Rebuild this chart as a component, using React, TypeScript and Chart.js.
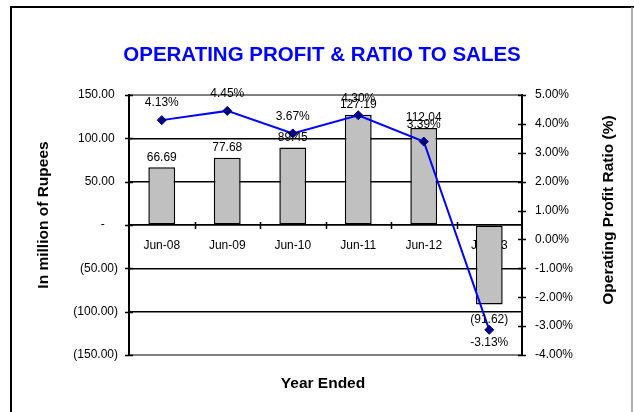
import React, { useEffect, useRef } from 'react';
import { Chart, registerables } from 'chart.js';

Chart.register(...registerables);

// ---- data ----
const categories = ['Jun-08', 'Jun-09', 'Jun-10', 'Jun-11', 'Jun-12', 'Jun-13'];
const operatingProfit = [66.69, 77.68, 89.45, 127.19, 112.04, -91.62];
const profitRatio = [4.13, 4.45, 3.67, 4.3, 3.39, -3.13];
const amountRange = [-150, 150];
const amountStep = 50;
const ratioRange = [-4, 5];
const ratioStep = 1;

const titleText = 'OPERATING PROFIT & RATIO TO SALES';
const xTitle = 'Year Ended';
const yTitle = 'In million of Rupees';
const y1Title = 'Operating Profit Ratio (%)';

const FONT = '"Liberation Sans", Arial, Helvetica, sans-serif';

const fmtAmountTick = (v: number) =>
  v === 0 ? '-    ' : v < 0 ? `(${Math.abs(v).toFixed(2)})` : `${v.toFixed(2)} `;
const fmtAmount = (v: number) => (v < 0 ? `(${Math.abs(v).toFixed(2)})` : v.toFixed(2));
const fmtPct = (v: number) => `${v.toFixed(2)}%`;

const decor = {
  id: 'decor',
  beforeDraw(chart: any) {
    const ctx = chart.ctx;
    ctx.save();
    ctx.fillStyle = '#ffffff';
    ctx.fillRect(0, 0, chart.width, chart.height);
    ctx.strokeStyle = '#000000';
    ctx.lineWidth = 2;
    ctx.beginPath();
    ctx.moveTo(11, chart.height);
    ctx.lineTo(11, 7);
    ctx.lineTo(chart.width, 7);
    ctx.stroke();
    ctx.strokeStyle = '#909090';
    ctx.lineWidth = 1.5;
    ctx.beginPath();
    ctx.moveTo(632, 7);
    ctx.lineTo(632, chart.height);
    ctx.stroke();
    ctx.restore();
  },
  afterDatasetsDraw(chart: any) {
    const ctx = chart.ctx;
    ctx.save();
    ctx.font = `12px ${FONT}`;
    ctx.fillStyle = '#000000';
    ctx.textAlign = 'center';
    ctx.textBaseline = 'middle';
    const barMeta = chart.getDatasetMeta(1);
    barMeta.data.forEach((el: any, i: number) => {
      const v = operatingProfit[i];
      const y = v >= 0 ? el.y - 10 : el.y + 15;
      ctx.fillText(fmtAmount(v), el.x, y);
    });
    const lineMeta = chart.getDatasetMeta(0);
    lineMeta.data.forEach((el: any, i: number) => {
      const v = profitRatio[i];
      const y = v >= 0 ? el.y - 17 : el.y + 13;
      ctx.fillText(fmtPct(v), el.x, y);
    });
    ctx.restore();
  },
  afterDraw(chart: any) {
    const ctx = chart.ctx;
    const { x, y, y1 } = chart.scales;
    ctx.save();
    // crossing tick marks
    ctx.strokeStyle = '#000000';
    ctx.lineWidth = 1.5;
    ctx.beginPath();
    y.ticks.forEach((t: any) => {
      const py = Math.round(y.getPixelForValue(t.value)) + 0.5;
      ctx.moveTo(y.right - 4, py);
      ctx.lineTo(y.right + 4, py);
    });
    y1.ticks.forEach((t: any) => {
      const py = Math.round(y1.getPixelForValue(t.value)) + 0.5;
      ctx.moveTo(y1.left - 4, py);
      ctx.lineTo(y1.left + 4, py);
    });
    const zeroY = y.getPixelForValue(0);
    for (let i = 1; i < categories.length; i++) {
      const px = Math.round((x.getPixelForValue(i - 1) + x.getPixelForValue(i)) / 2) + 0.5;
      ctx.moveTo(px, zeroY - 3);
      ctx.lineTo(px, zeroY + 4);
    }
    ctx.stroke();

    // titles
    ctx.fillStyle = '#0000FF';
    ctx.font = `bold 20.5px ${FONT}`;
    ctx.textAlign = 'center';
    ctx.textBaseline = 'alphabetic';
    ctx.fillText(titleText, 322, 61);

    ctx.fillStyle = '#000000';
    ctx.font = `bold 15.5px ${FONT}`;
    ctx.fillText(xTitle, 323, 388);

    ctx.save();
    ctx.translate(48, 215);
    ctx.rotate(-Math.PI / 2);
    ctx.fillText(yTitle, 0, 0);
    ctx.restore();

    ctx.save();
    ctx.translate(613, 210);
    ctx.rotate(-Math.PI / 2);
    ctx.fillText(y1Title, 0, 0);
    ctx.restore();

    ctx.restore();
  },
};

export default function App() {
  const ref = useRef<HTMLCanvasElement | null>(null);

  useEffect(() => {
    if (!ref.current) return;
    const chart = new Chart(ref.current, {
      data: {
        labels: categories,
        datasets: [
          {
            type: 'line',
            label: 'Operating Profit Ratio',
            data: profitRatio,
            yAxisID: 'y1',
            borderColor: '#0000FF',
            borderWidth: 2,
            pointStyle: 'rectRot',
            pointRadius: 4.5,
            pointBackgroundColor: '#000080',
            pointBorderColor: '#000080',
            pointBorderWidth: 1,
            tension: 0,
            order: 0,
          },
          {
            type: 'bar',
            label: 'Operating Profit',
            data: operatingProfit,
            yAxisID: 'y',
            backgroundColor: '#C0C0C0',
            borderColor: '#000000',
            borderWidth: 1.5,
            borderSkipped: false,
            categoryPercentage: 1,
            barPercentage: 0.41,
            order: 1,
          },
        ],
      } as any,
      options: {
        responsive: false,
        animation: false,
        events: [],
        layout: { padding: { top: 95, bottom: 57, left: 0, right: 0 } },
        plugins: {
          legend: { display: false },
          tooltip: { enabled: false },
          title: { display: false },
        },
        scales: {
          x: {
            type: 'category',
            position: { y: 0 } as any,
            offset: true,
            grid: { drawOnChartArea: false, drawTicks: false, offset: true },
            border: { color: '#000000', width: 1.5 },
            ticks: {
              color: '#000000',
              font: { family: FONT, size: 12 },
              padding: 13,
              maxRotation: 0,
              autoSkip: false,
            },
          },
          y: {
            type: 'linear',
            position: 'left',
            min: amountRange[0],
            max: amountRange[1],
            grid: {
              drawTicks: false,
              color: (c: any) =>
                c.tick && (c.tick.value === amountRange[0] || c.tick.value === amountRange[1])
                  ? '#808080'
                  : '#000000',
              lineWidth: (c: any) =>
                c.tick && (c.tick.value === amountRange[0] || c.tick.value === amountRange[1]) ? 2 : 1.5,
            },
            border: { color: '#000000', width: 2 },
            ticks: {
              stepSize: amountStep,
              color: '#000000',
              font: { family: FONT, size: 12 },
              padding: 11,
              callback: (v: any) => fmtAmountTick(Number(v)),
            },
            afterFit: (s: any) => {
              s.width = 129;
            },
          },
          y1: {
            type: 'linear',
            position: 'right',
            min: ratioRange[0],
            max: ratioRange[1],
            grid: { drawOnChartArea: false, drawTicks: false },
            border: { color: '#000000', width: 2 },
            ticks: {
              stepSize: ratioStep,
              color: '#000000',
              font: { family: FONT, size: 12 },
              padding: 13,
              callback: (v: any) => fmtPct(Number(v)),
            },
            afterFit: (s: any) => {
              s.width = 112;
            },
          },
        },
      } as any,
      plugins: [decor as any],
    });
    return () => chart.destroy();
  }, []);

  return (
    <div style={{ position: 'absolute', left: 0, top: 0, width: 634, height: 412 }}>
      <canvas ref={ref} width={634} height={412} style={{ display: 'block' }} />
    </div>
  );
}
